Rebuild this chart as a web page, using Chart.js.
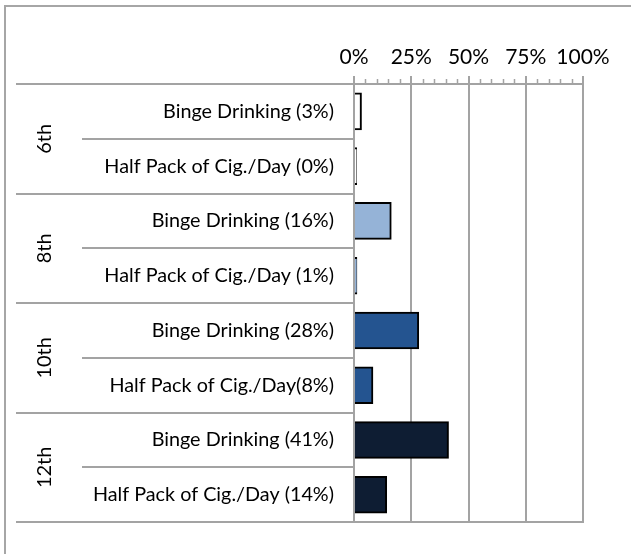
<!DOCTYPE html>
<html>
<head>
<meta charset="utf-8">
<script src="https://cdn.jsdelivr.net/npm/chart.js@4"></script>
<style>
  body { margin: 0; background: #fff; }
  canvas { display: block; }
</style>
</head>
<body>
<canvas id="mycanvas" width="631" height="554"></canvas>
<script>
var grades = ["6th", "8th", "10th", "12th"];
var categoryLabels = [
	"Binge Drinking (3%)", "Half Pack of Cig./Day (0%)",
	"Binge Drinking (16%)", "Half Pack of Cig./Day (1%)",
	"Binge Drinking (28%)", "Half Pack of Cig./Day(8%)",
	"Binge Drinking (41%)", "Half Pack of Cig./Day (14%)"
];
var bingeValues = [3, 16, 28, 41];
var cigValues = [0.4, 1, 8, 14];
var tickValues = [0, 25, 50, 75, 100];
var gradeColors = ["#ffffff", "#95b3d7", "#245490", "#0e1d33"];

var values = [];
var colors = [];
for (var i = 0; i < grades.length; i++) {
	values.push(bingeValues[i], cigValues[i]);
	colors.push(gradeColors[i], gradeColors[i]);
}

var gridGrey = "#a3a3a3";
var fontFamily = "Lato, 'Open Sans', sans-serif";

// frame, separators, group labels and minor ticks
var extras = {
	id: "extras",
	beforeDraw: function(chart) {
		var ctx = chart.ctx;
		ctx.save();
		ctx.strokeStyle = "#a6a6a6";
		ctx.lineWidth = 2;
		ctx.beginPath();
		ctx.moveTo(4, 6); ctx.lineTo(631, 6);
		ctx.moveTo(5, 6); ctx.lineTo(5, 554);
		ctx.stroke();
		ctx.restore();
	},
	afterDraw: function(chart) {
		var ctx = chart.ctx;
		var area = chart.chartArea;
		var y = chart.scales.y;
		var x = chart.scales.x;
		ctx.save();
		ctx.strokeStyle = gridGrey;
		ctx.lineWidth = 2;
		ctx.beginPath();
		for (var b = -0.5; b <= categoryLabels.length - 0.5; b += 1) {
			var py = Math.round(y.getPixelForValue(b));
			var isGroup = ((b + 0.5) % 2) === 0;
			ctx.moveTo(isGroup ? 16 : 82, py);
			ctx.lineTo(area.left, py);
		}
		var bottom = Math.round(y.getPixelForValue(categoryLabels.length - 0.5));
		ctx.moveTo(area.left, bottom);
		ctx.lineTo(area.right + 1, bottom);
		ctx.stroke();

		// minor ticks every 5%
		ctx.lineWidth = 1.5;
		ctx.beginPath();
		for (var v = 5; v < 100; v += 5) {
			if (v % 25 === 0) continue;
			var px = Math.round(x.getPixelForValue(v)) + 0.5;
			ctx.moveTo(px, area.top);
			ctx.lineTo(px, area.top - 5);
		}
		ctx.stroke();

		// grade labels, rotated
		ctx.fillStyle = "#000";
		ctx.font = "20px " + fontFamily;
		ctx.textAlign = "center";
		ctx.textBaseline = "middle";
		for (var g = 0; g < grades.length; g++) {
			var cy = y.getPixelForValue(g * 2 + 0.5);
			ctx.save();
			ctx.translate(45, cy);
			ctx.rotate(-Math.PI / 2);
			ctx.fillText(grades[g], 0, 0);
			ctx.restore();
		}
		ctx.restore();
	}
};

var ctx = document.getElementById("mycanvas");
var chart = new Chart(ctx, {
	type: "bar",
	data: {
		labels: categoryLabels,
		datasets: [{
			data: values,
			backgroundColor: colors,
			borderColor: "#000",
			borderWidth: 2,
			inflateAmount: 1,
			minBarLength: 2,
			barPercentage: 0.65,
			categoryPercentage: 1
		}]
	},
	options: {
		indexAxis: "y",
		responsive: false,
		animation: false,
		layout: { padding: { top: 0, left: 0, right: 48, bottom: 24 } },
		plugins: {
			legend: { display: false },
			tooltip: { enabled: false }
		},
		scales: {
			x: {
				position: "top",
				min: 0,
				max: 100,
				afterBuildTicks: function(scale) {
					scale.ticks = tickValues.map(function(v) { return { value: v }; });
				},
				afterFit: function(scale) { scale.height = 84; },
				ticks: {
					callback: function(v) { return v + "%"; },
					color: "#000",
					font: { family: fontFamily, size: 21 },
					padding: 6,
					maxRotation: 0
				},
				grid: {
					color: gridGrey,
					lineWidth: 2,
					tickLength: 8,
					tickColor: gridGrey
				},
				border: { color: gridGrey, width: 2 }
			},
			y: {
				z: 1,
				afterFit: function(scale) { scale.width = 354; },
				ticks: {
					color: "#000",
					font: { family: fontFamily, size: 19.8 },
					padding: 20,
					autoSkip: false
				},
				grid: { display: false, drawTicks: false },
				border: { color: gridGrey, width: 2 }
			}
		}
	},
	plugins: [extras]
});
</script>
</body>
</html>
